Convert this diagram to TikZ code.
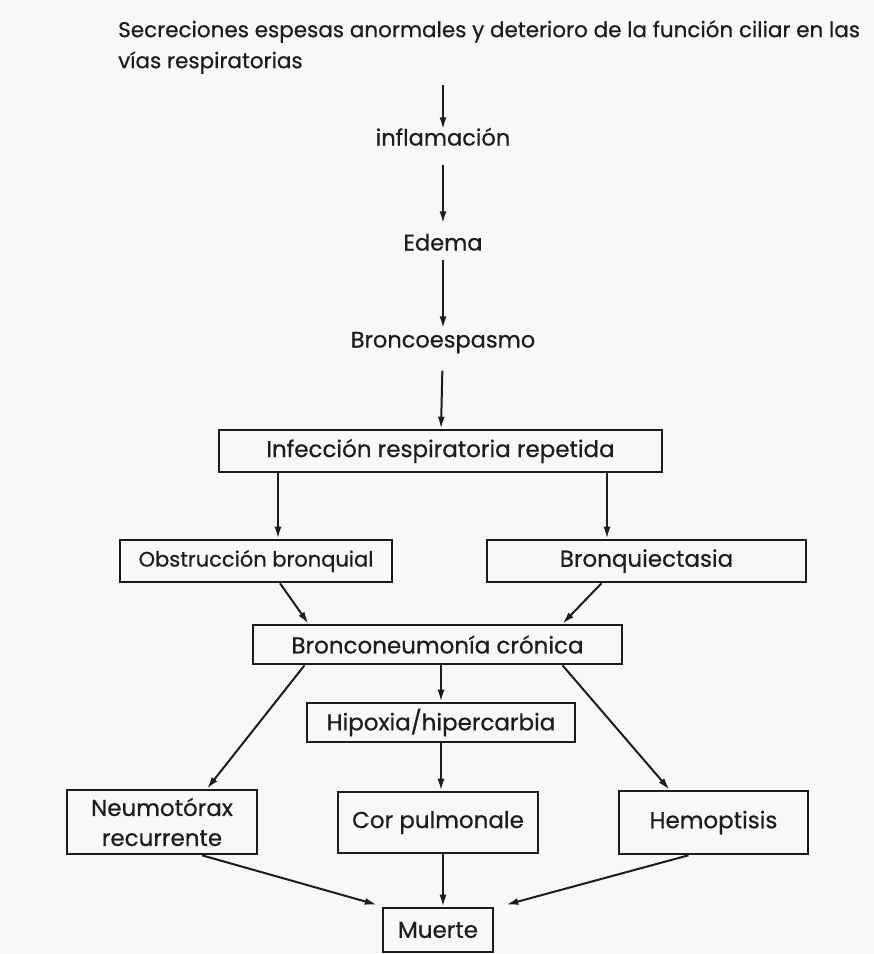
\documentclass[tikz,border=0pt]{standalone}
\usepackage{fontspec}
\setmainfont{Poppins}[FakeBold=0.5,AutoFakeBold=0.5]
\usepackage{tikz}
\usetikzlibrary{arrows.meta,positioning}
\definecolor{ink}{HTML}{1C1C1C}
\definecolor{paper}{HTML}{F8F8F6}

\begin{document}
\begin{tikzpicture}[
 x=1pt,y=-1pt,
 font=\fontsize{23}{30}\selectfont\bfseries,
 box/.style={draw=ink,text=ink,line width=2.6pt,inner sep=0pt,minimum height=42pt,align=center},
 stage/.style={text=ink,inner sep=0pt,text height=16pt,text depth=5pt,font=\fontsize{22.5}{30}\selectfont\bfseries},
 arrow/.style={-{Latex[length=12pt,width=7pt]},line width=2pt,draw=ink}
]
\fill[paper] (0,0) rectangle (874,954);
\useasboundingbox (0,0) rectangle (874,954);

% chain at the top
\node[anchor=north west,align=left,inner sep=0pt,text=ink,font=\fontsize{21.5}{31}\selectfont\bfseries] (secr) at (118,20) {Secreciones espesas anormales y deterioro de la función ciliar en las\\vías respiratorias};
\coordinate (start) at (443,85);
\node[stage] (inflam) at (443,140) {inflamación};
\node[stage] (edema) at (443,245) {Edema};
\node[stage] (bronco) at (443,342) {Broncoespasmo};

% boxes
\node[box,minimum width=443pt] (infec) at (440.5,451) {Infección respiratoria repetida};
\node[box,minimum width=272pt,font=\fontsize{21}{30}\selectfont\bfseries] (obstr) at (256,561) {Obstrucción bronquial};
\node[box,minimum width=319pt] (bronq) at (646.5,561) {Bronquiectasia};
\node[box,minimum width=369pt,minimum height=39pt] (bneum) at (437.5,644.5) {Bronconeumonía crónica};
\node[box,minimum width=268pt,minimum height=39pt] (hipox) at (441,722.5) {Hipoxia/hipercarbia};
\node[box,minimum width=190pt,minimum height=64pt,font=\fontsize{23}{30}\selectfont\bfseries] (neumo) at (162,822) {Neumotórax\\recurrente};
\node[box,minimum width=200pt,minimum height=61pt] (cor) at (438,822.5) {Cor pulmonale};
\node[box,minimum width=189pt,minimum height=63pt] (hemo) at (713.5,822.5) {Hemoptisis};
\node[box,minimum width=110pt,minimum height=44pt] (muerte) at (438,930) {Muerte};

% connectors
\draw[arrow] (start) -- (inflam);
\draw[arrow,shorten <=14pt,shorten >=11pt] (inflam) -- (edema);
\draw[arrow,shorten <=4pt,shorten >=3pt] (edema) -- (bronco);
\draw[arrow,shorten <=18pt] (bronco) -- (infec);
\coordinate (il) at (278,472);
\coordinate (ir) at (607,472);
\draw[arrow] (il) -- (il |- obstr.north);
\draw[arrow] (ir) -- (ir |- bronq.north);
\draw[arrow] ([xshift=24pt]obstr.south) -- ([xshift=-129pt]bneum.north);
\draw[arrow] ([xshift=-45pt]bronq.south) -- ([xshift=125pt]bneum.north);
\draw[arrow] ([xshift=3.5pt]bneum.south) -- (hipox);
\draw[arrow] ([xshift=-133pt]bneum.south) -- ([xshift=45pt]neumo.north);
\draw[arrow] ([xshift=125pt]bneum.south) -- ([xshift=-44pt]hemo.north);
\draw[arrow] (hipox) -- ([xshift=3pt]cor.north);
\draw[arrow] ([xshift=40pt]neumo.south) -- ([xshift=-5pt,yshift=2pt]muerte.north west);
\draw[arrow] ([xshift=-25pt]hemo.south) -- ([xshift=12pt,yshift=2pt]muerte.north east);
\draw[arrow] ([xshift=5pt]cor.south) -- ([xshift=5pt]muerte.north);
\end{tikzpicture}
\end{document}
